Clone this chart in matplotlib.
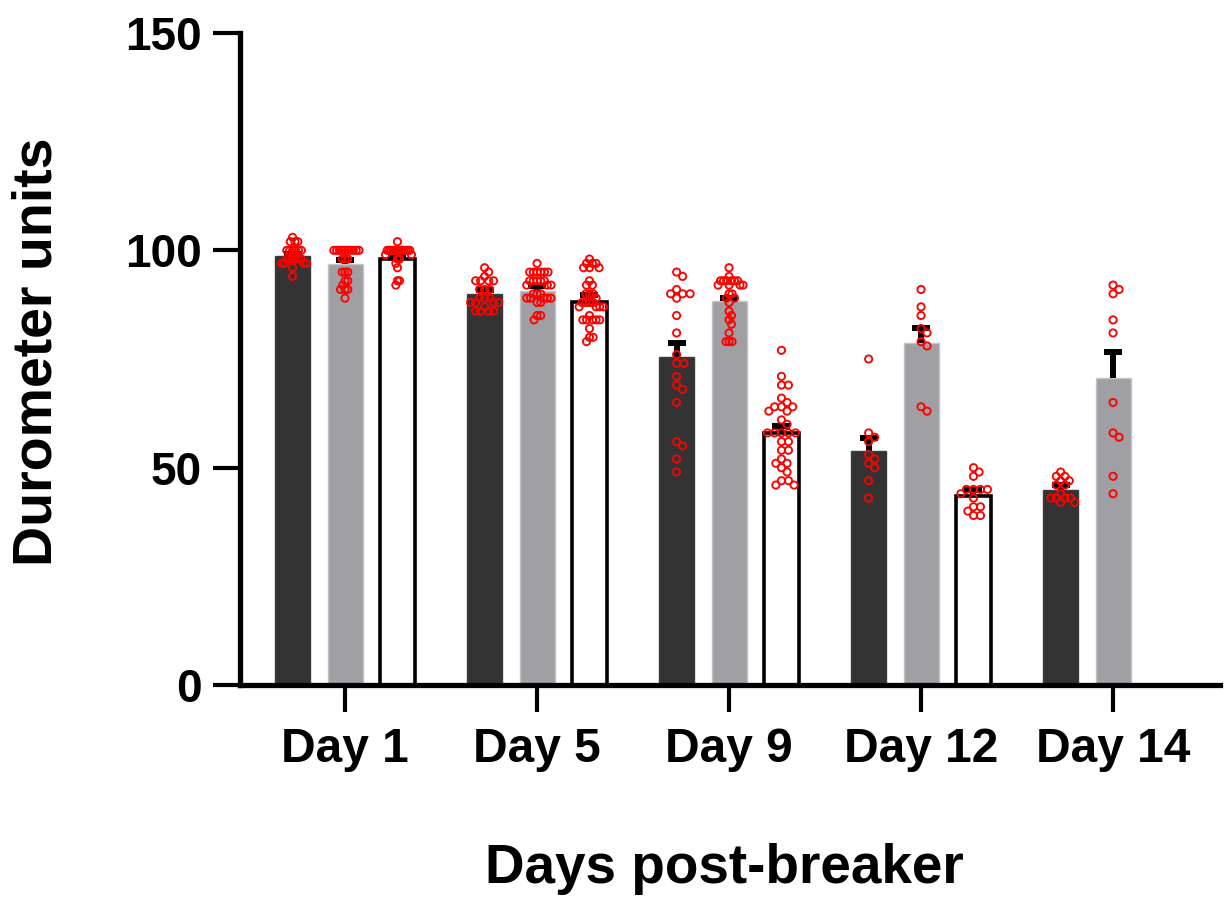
import numpy as np
import matplotlib
matplotlib.use("Agg")
import matplotlib.pyplot as plt

plt.rcParams["font.family"] = ["Liberation Sans", "DejaVu Sans"]
plt.rcParams["font.weight"] = "bold"

days = ["Day 1", "Day 5", "Day 9", "Day 12", "Day 14"]

# bar means and upper SEM
dark_mean = [98.6, 89.9, 75.5, 53.9, 44.8]
dark_sem = [0.6, 1.0, 3.1, 2.9, 1.2]
gray_mean = [96.8, 90.6, 88.3, 78.7, 70.7]
gray_sem = [1.0, 1.3, 0.8, 3.4, 6.0]
white_mean = [98.1, 88.1, 57.9, 43.4, np.nan]
white_sem = [0.6, 1.6, 1.6, 1.5, np.nan]

# individual readings
dark_pts = [
    [103, 102, 102, 102, 100, 100, 100, 100, 100, 100, 98, 98, 98, 98, 98, 98,
     97, 97, 97, 97, 96, 94],
    [96, 95, 94, 93, 93, 93, 93, 91, 91, 91, 89, 89, 89, 88, 88, 88, 88, 87,
     86, 86, 86, 86],
    [95, 94, 91, 90, 90, 90, 89, 85, 81, 76, 74, 74, 71, 69, 68, 65, 56, 55,
     52, 49],
    [75, 58, 57, 56, 53, 52, 51, 50, 47, 43],
    [49, 48, 48, 47, 47, 46, 46, 44, 43, 43, 43, 43, 42, 42],
]
gray_pts = [
    [100] * 10 + [98, 98, 98, 95, 95, 95, 93, 93, 92, 91, 91, 91, 89],
    [97] + [95] * 6 + [93] * 5 + [92, 92, 92, 90, 90, 90] + [89] * 5
    + [88, 88, 85, 85, 84],
    [96, 94] + [93] * 6 + [92] * 4 + [90, 90, 89, 89, 88, 86, 85, 84, 83, 81,
                                     79, 79, 79],
    [91, 87, 85, 82, 81, 79, 78, 64, 63],
    [92, 91, 90, 84, 81, 65, 58, 57, 48, 44],
]
white_pts = [
    [102] + [100] * 12 + [99, 99, 98, 98, 97, 96, 93, 93, 92],
    [98, 97, 97, 97, 96, 96, 96, 93, 92, 92, 90, 90, 90, 89, 88, 88, 88, 88,
     87, 87, 87, 87, 85, 84, 84, 84, 84, 84, 82, 80, 80, 79],
    [77, 71, 69, 69, 66, 65, 64, 64, 64, 63, 63, 61, 60, 58, 58, 58, 58, 58,
     56, 56, 54, 54, 52, 51, 51, 50, 49, 47, 47, 46, 46],
    [50, 49, 48, 45, 45, 45, 45, 44, 43, 41, 41, 40, 39, 39],
    [],
]

W, H = 1225, 897
fig = plt.figure(figsize=(W / 100, H / 100), dpi=100)
ax = fig.add_axes([240 / W, 1 - 685 / H, 980 / W, 652 / H])
ax.set_xlim(-0.547, 4.557)
ax.set_ylim(0, 150)

x = np.arange(len(days))
off, bw = 0.273, 0.182


def swarm(xc, vals, half_px, diam=7.2, step=0.5):
    """GraphPad-ish scatter: spread tied/close values sideways."""
    if not vals:
        return np.array([])
    t = ax.transData
    ppx = t.transform((1, 0))[0] - t.transform((0, 0))[0]
    ys = [t.transform((xc, v))[1] for v in vals]
    placed, offs = [], []
    for y in ys:
        i = 0
        while True:
            cands = [0.0] if i == 0 else [i * step, -i * step]
            hit = None
            for c in cands:
                if all((c - px) ** 2 + (y - py) ** 2 >= diam ** 2
                       for px, py in placed):
                    hit = c
                    break
            if hit is not None:
                break
            i += 1
        placed.append((hit, y))
        offs.append(hit)
    offs = np.array(offs)
    m = np.abs(offs).max()
    if m > half_px:
        offs = offs * half_px / m
    return xc + offs / ppx


groups = [
    (x - off, dark_mean, dark_sem, dark_pts,
     dict(color="#333333", edgecolor="#3c3c3c", linewidth=1)),
    (x, gray_mean, gray_sem, gray_pts,
     dict(color="#a09fa4", edgecolor="#c4c4c8", linewidth=1)),
    (x + off, white_mean, white_sem, white_pts,
     dict(color="white", edgecolor="black", linewidth=2.6)),
]

for xs, mean, sem, pts, style in groups:
    mean = np.array(mean)
    ok = ~np.isnan(mean)
    ax.bar(xs[ok], mean[ok], width=bw, zorder=2, **style)
    sem = np.array(sem)
    top = mean[ok] + sem[ok]
    # upper-only error bar: stem plus a single cap
    ax.vlines(xs[ok], mean[ok], top, color="black", linewidth=4.3, zorder=3)
    ax.plot(xs[ok], top, ls="none", marker="_", ms=13.5, mew=4.3,
            color="black", zorder=3)
    for xc, vals in zip(xs, pts):
        px = swarm(xc, vals, half_px=14)
        if len(px):
            ax.scatter(px, vals, s=27, facecolors="none", edgecolors="#ff0000",
                       linewidths=1.35, zorder=4, clip_on=False)

for side in ["top", "right"]:
    ax.spines[side].set_visible(False)
for side in ["left", "bottom"]:
    ax.spines[side].set_linewidth(3.8)

ax.set_yticks([0, 50, 100, 150])
ax.set_xticks(x)
ax.set_xticklabels(days)
ax.tick_params(axis="both", length=19.5, width=3.0, labelsize=33)
ax.tick_params(axis="x", labelsize=34.5, pad=11)
ax.tick_params(axis="y", pad=8)

fig.text(724 / W, 1 - 883 / H, "Days post-breaker", ha="center",
         va="baseline", fontsize=39.5, fontweight="bold")
fig.text(38 / W, 1 - 352 / H, "Durometer units", ha="center", va="center",
         rotation=90, fontsize=40, fontweight="bold")

fig.savefig("out.png", dpi=100)
